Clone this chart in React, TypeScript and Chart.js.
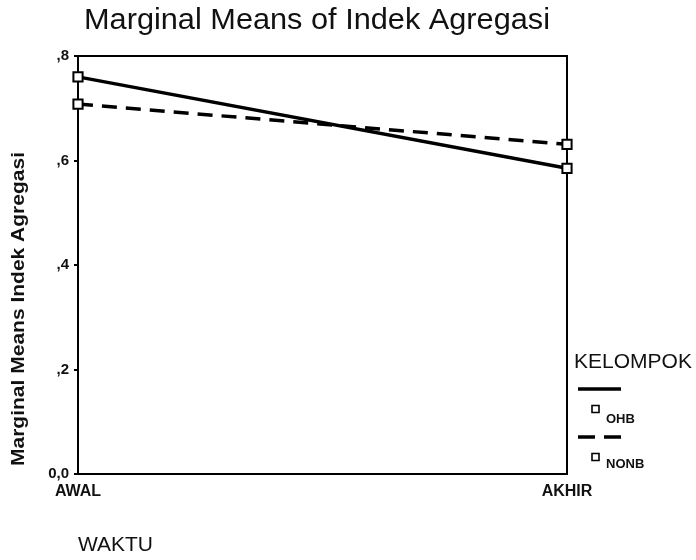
import React, { useEffect, useRef } from "react";
import { Chart, registerables } from "chart.js";

Chart.register(...registerables);

const categories = ["AWAL", "AKHIR"];
const ohbValues = [0.76, 0.585];
const nonbValues = [0.708, 0.631];
const yTickLabels = ["0,0", ",2", ",4", ",6", ",8"];
const seriesNames = ["OHB", "NONB"];
const titleText = "Marginal Means of Indek Agregasi";
const yTitleText = "Marginal Means Indek Agregasi";
const xTitleText = "WAKTU";
const legendTitleText = "KELOMPOK";

const FONT = "'Liberation Sans', Arial, Helvetica, sans-serif";
const INK = "#111";

function fitText(
  ctx: CanvasRenderingContext2D,
  text: string,
  x: number,
  y: number,
  width: number | null,
  font: string,
  rotate = 0,
  align: CanvasTextAlign = "left",
  baseline: CanvasTextBaseline = "middle"
) {
  ctx.save();
  ctx.font = font;
  ctx.fillStyle = INK;
  ctx.textBaseline = baseline;
  ctx.textAlign = align;
  const m = ctx.measureText(text).width;
  ctx.translate(x, y);
  if (rotate) ctx.rotate(rotate);
  if (width) ctx.scale(width / m, 1);
  ctx.fillText(text, 0, 0);
  ctx.restore();
}

const decorPlugin = {
  id: "decor",
  beforeDatasetsDraw(chart: any) {
    const { ctx, chartArea } = chart;
    ctx.save();
    ctx.strokeStyle = "#000";
    ctx.lineWidth = 2;
    ctx.beginPath();
    ctx.moveTo(chartArea.left, chartArea.top);
    ctx.lineTo(chartArea.right, chartArea.top);
    ctx.lineTo(chartArea.right, chartArea.bottom);
    ctx.stroke();
    ctx.restore();
  },
  afterDraw(chart: any) {
    const ctx: CanvasRenderingContext2D = chart.ctx;
    // title
    fitText(ctx, titleText, 84, 29, 466, `30px ${FONT}`, 0, "left", "alphabetic");
    // y axis title
    fitText(ctx, yTitleText, 19, 309, 314, `bold 19px ${FONT}`, -Math.PI / 2, "center");
    // x axis title
    fitText(ctx, xTitleText, 78, 545, 75, `21px ${FONT}`);
    // legend
    fitText(ctx, legendTitleText, 574, 362, 118, `20px ${FONT}`);
    const lx0 = 578;
    const lx1 = 621;
    const rows = [
      { y: 389, dash: [] as number[], sq: 409, ty: 419 },
      { y: 437, dash: [17, 9], sq: 457, ty: 464 },
    ];
    rows.forEach((r, i) => {
      ctx.save();
      ctx.strokeStyle = "#000";
      ctx.lineWidth = 3.5;
      ctx.setLineDash(r.dash);
      ctx.beginPath();
      ctx.moveTo(lx0, r.y);
      ctx.lineTo(lx1, r.y);
      ctx.stroke();
      ctx.setLineDash([]);
      ctx.lineWidth = 1.6;
      ctx.fillStyle = "#fff";
      ctx.beginPath();
      ctx.rect(592, r.sq - 3.5, 7, 7);
      ctx.fill();
      ctx.stroke();
      ctx.restore();
      fitText(ctx, seriesNames[i], 606, r.ty, null, `bold 13px ${FONT}`);
    });
  },
};

export default function App() {
  const ref = useRef<HTMLCanvasElement>(null);

  useEffect(() => {
    if (!ref.current) return;
    const chart = new Chart(ref.current, {
      type: "line",
      data: {
        labels: categories,
        datasets: [
          {
            label: seriesNames[0],
            data: ohbValues,
            borderColor: "#000",
            borderWidth: 3.5,
            pointStyle: "rect",
            pointRadius: 6.5,
            pointBorderWidth: 2,
            pointBackgroundColor: "#fff",
            pointBorderColor: "#000",
            clip: false,
          } as any,
          {
            label: seriesNames[1],
            data: nonbValues,
            borderColor: "#000",
            borderWidth: 3.5,
            borderDash: [15, 9],
            pointStyle: "rect",
            pointRadius: 6.5,
            pointBorderWidth: 2,
            pointBackgroundColor: "#fff",
            pointBorderColor: "#000",
            clip: false,
          } as any,
        ],
      },
      options: {
        responsive: false,
        animation: false,
        devicePixelRatio: 1,
        layout: { padding: { top: 56, right: 129, left: 0, bottom: 0 } },
        plugins: {
          legend: { display: false },
          title: { display: false },
          tooltip: { enabled: false },
        },
        scales: {
          x: {
            type: "category",
            offset: false,
            grid: { display: false, drawTicks: false },
            border: { display: true, color: "#000", width: 2 },
            ticks: {
              color: INK,
              font: { family: FONT, size: 16, weight: "bold" },
              padding: 8,
              maxRotation: 0,
              autoSkip: false,
            },
            afterFit: (s: any) => {
              s.height = 86;
            },
          },
          y: {
            min: 0,
            max: 0.8,
            ticks: {
              stepSize: 0.2,
              color: INK,
              font: { family: FONT, size: 15, weight: "bold" },
              padding: 5,
              callback: (_v: any, i: number) => yTickLabels[i],
            },
            grid: {
              drawOnChartArea: false,
              drawTicks: true,
              tickLength: 4,
              color: "#000",
              lineWidth: 2,
            },
            border: { display: true, color: "#000", width: 2 },
            afterFit: (s: any) => {
              s.width = 78;
            },
          },
        },
      } as any,
      plugins: [decorPlugin],
    });
    return () => chart.destroy();
  }, []);

  return (
    <div style={{ position: "absolute", left: 0, top: 0, width: 696, height: 560, background: "#fff" }}>
      <canvas ref={ref} width={696} height={560} style={{ width: 696, height: 560, display: "block" }} />
    </div>
  );
}
